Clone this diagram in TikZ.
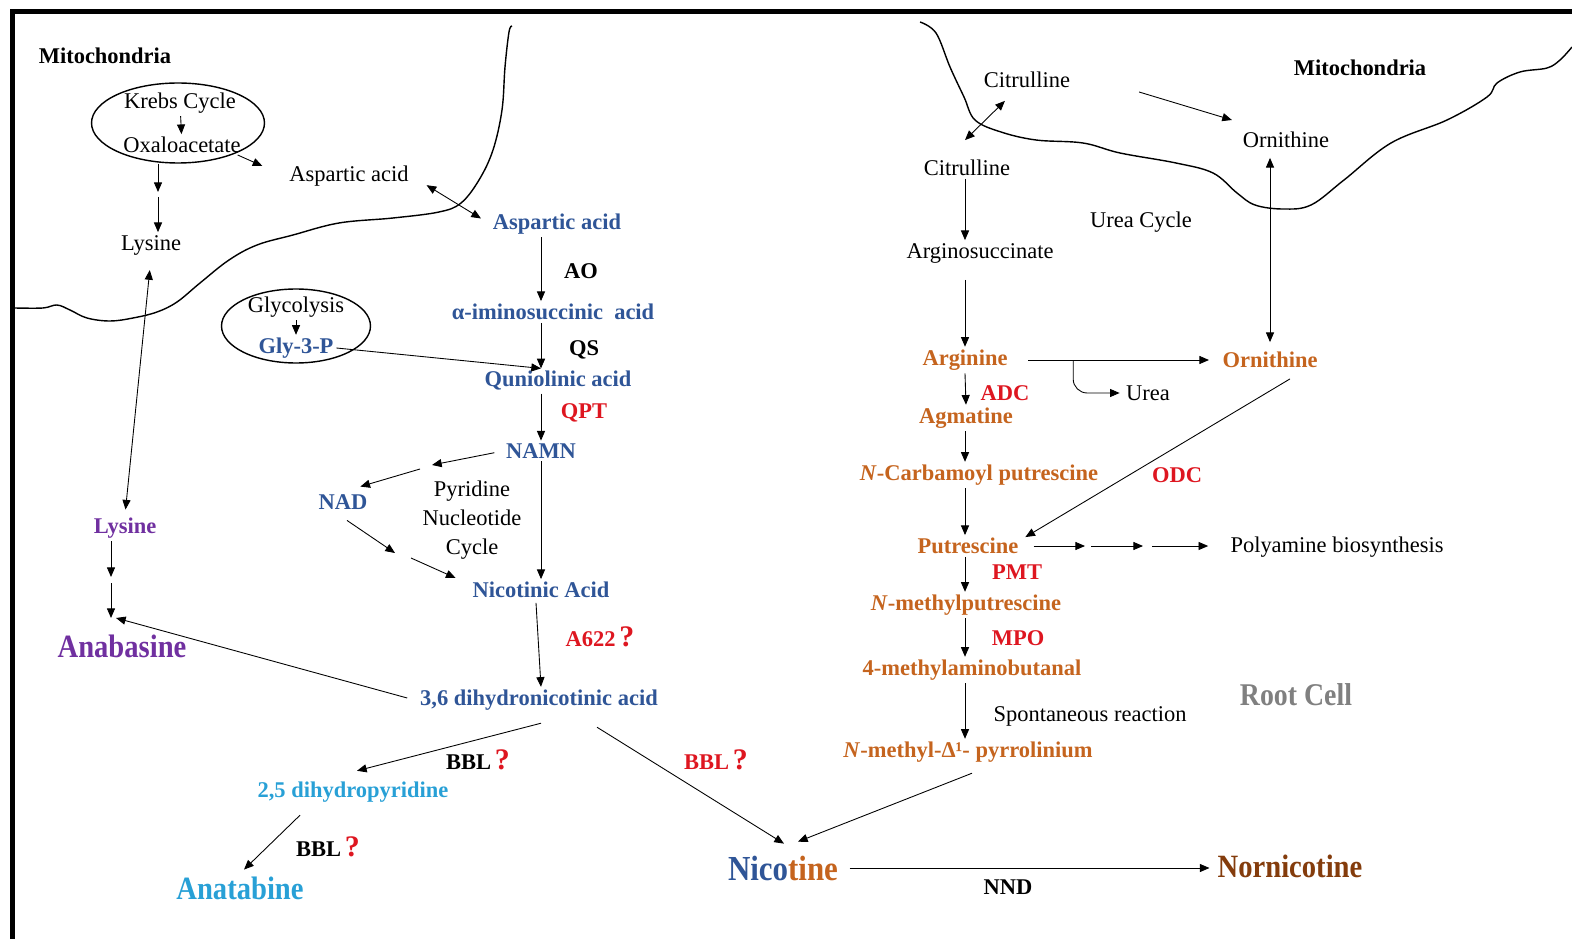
\documentclass[tikz,border=0pt]{standalone}
\usepackage{fontspec}
\setmainfont{Liberation Serif}
\newfontfamily\condfont{Liberation Serif}[FakeStretch=0.88]
\usetikzlibrary{arrows.meta,shapes.geometric,calc}

\definecolor{blueT}{RGB}{47,85,151}
\definecolor{orangeT}{RGB}{197,100,30}
\definecolor{brownT}{RGB}{132,60,12}
\definecolor{redT}{RGB}{222,22,32}
\definecolor{purpleT}{RGB}{112,48,160}
\definecolor{cyanT}{RGB}{40,160,214}
\definecolor{grayT}{RGB}{128,128,128}

\newcommand{\whyq}{\,\textcolor{redT}{\fontsize{17}{18}\selectfont ?}}

\begin{document}
\begin{tikzpicture}[x=0.02cm,y=-0.02cm,
  every node/.style={inner sep=1.5pt},
  tx/.style={font=\fontsize{12.8}{15}\selectfont},
  bt/.style={font=\bfseries\fontsize{12.8}{15}\selectfont},
  bl/.style={bt,text=blueT},
  og/.style={bt,text=orangeT},
  enz/.style={bt,text=redT},
  big/.style={font=\condfont\bfseries\fontsize{18.5}{20}\selectfont},
  arr/.style={-{Triangle[length=5.5pt,width=4.6pt]},line width=0.5pt},
  arrs/.style={{Triangle[length=5.5pt,width=4.6pt]}-{Triangle[length=5.5pt,width=4.6pt]},line width=0.5pt},
  membrane/.style={line width=0.8pt},
  cell/.style={draw,ellipse,line width=0.8pt}]
\useasboundingbox (0,0) rectangle (1572,939);

% Frame
\fill (10,9) rectangle (1572,14);
\fill (10,9) rectangle (15,939);

% Membranes
\draw[membrane] plot[smooth,tension=0.6] coordinates {(15,308) (43,308) (57,305) (70,310) (87,318) (110,321) (133,318) (157,312) (177,302) (200,283) (229,260) (257,245) (293,235) (339,223) (393,218) (439,212) (461,203) (479,180) (493,150) (502,110) (505,67) (509,32) (512,26)};
\draw[membrane] plot[smooth,tension=0.6] coordinates {(920,22) (936,33) (950,67) (964,97) (975,120) (1001,132) (1036,140) (1083,143) (1120,153) (1176,163) (1213,173) (1237,193) (1255,205) (1283,209) (1311,205) (1344,180) (1391,143) (1447,120) (1487,97) (1497,83) (1520,72) (1547,68) (1560,60) (1572,47)};

% Left mitochondria
\node[bt] (mitoL) at (105,56) {Mitochondria};
\node[cell, minimum width=3.46cm, minimum height=1.6cm] (krebsCell) at (178,123) {};
\node[tx] (krebs) at (180,103) {Krebs Cycle};
\node[tx] (oxalo) at (182,145) {Oxaloacetate};
\node[tx] (asp1) at (349,176) {Aspartic acid};
\node[tx] (lysM) at (151,245) {Lysine};
\coordinate (kA) at (158,192);
\coordinate (kB) at (158,197);
\draw[arr] (krebs) -- (oxalo);
\draw[arr] ($(oxalo.east)+(-6,10)$) -- ($(asp1.west)+(-24,-10)$);
\draw[arr] (krebsCell.south -| kA) -- (kA);
\draw[arr] (kB) -- (lysM.north -| kB);

% Anabasine branch
\node[bt,text=purpleT] (lysP) at (125,528) {Lysine};
\node[big,text=purpleT] (anab) at (122,646) {Anabasine};
\coordinate (lA) at (111,577);
\coordinate (lB) at (111,583);
\coordinate (anabIn) at (116,618);
\draw[arrs,shorten <=7pt,shorten >=3pt] (lysM.south) -- (lysP.north);
\draw[arr] (lysP.south -| lA) -- (lA);
\draw[arr] (lB) -- (anabIn -| lB);

% Nicotinic acid pathway
\node[bl] (aspB) at (557,224) {Aspartic acid};
\node[bt] (ao) at (581,271) {AO};
\node[bl] (imino) at (553,312) {α-iminosuccinic\ \ acid};
\node[bt] (qs) at (584,350) {QS};
\node[cell, minimum width=2.98cm, minimum height=1.48cm] (glyCell) at (296,326) {};
\node[tx] (glyco) at (296,307) {Glycolysis};
\node[bl] (gly3p) at (296,348) {Gly-3-P};
\node[bl] (quin) at (558,381) {Quniolinic acid};
\node[enz] (qpt) at (584,413) {QPT};
\node[bl] (namn) at (541,451) {NAMN};
\node[bl] (nad) at (343,502) {NAD};
\node[tx, align=center, font=\fontsize{12.8}{16.3}\selectfont] (pnc) at (472,520) {Pyridine\\Nucleotide\\Cycle};
\node[bl] (nico) at (541,590) {Nicotinic Acid};
\node[enz] (a622) at (600,637) {A622\whyq};
\node[bl] (dhn) at (539,700) {3,6 dihydronicotinic acid};
\coordinate (nA) at (432,465);
\coordinate (nB) at (420,469);
\coordinate (pA) at (395,553);
\coordinate (pB) at (411,558);

\draw[arrs,shorten <=10pt,shorten >=6pt] (asp1.east) -- (aspB.west);
\draw[arr] (glyco) -- (gly3p);
\draw[arr] (aspB.south -| namn) -- (imino.north -| namn);
\draw[arr] (imino.south -| namn) -- (quin.north -| namn);
\draw[arr] (gly3p.east) -- (quin.north -| namn);
\draw[arr] (quin.south -| namn) -- (namn.north);
\draw[arr,shorten <=5pt] (namn.west) -- (nA);
\draw[arr] (nB) -- ($(nad.north east)+(-10,-5)$);
\draw[arr] ($(nad.south)+(4,8)$) -- (pA);
\draw[arr] (pB) -- ($(nico.west)+(-14,-12)$);
\draw[arr] (namn.south) -- (nico.north -| namn);
\draw[arr] ($(nico.south)+(-5,2)$) -- (dhn.north -| namn);
\draw[arr] ($(dhn.west)+(-10,-2)$) -- (anabIn);

% Anatabine branch
\node[bt,text=cyanT] (dhp) at (353,792) {2,5 dihydropyridine};
\node[big,text=cyanT] (anat) at (240,888) {Anatabine};
\node[bt] (bblA) at (478,760) {BBL\whyq};
\node[bt] (bblC) at (328,847) {BBL\whyq};
\draw[arr] ($(dhn.south)+(2,10)$) -- ($(dhp.north)+(4,-8)$);
\draw[arr] ($(dhp.south)+(-53,10)$) -- ($(anat.north)+(4,-4)$);

% Right mitochondria and urea cycle
\node[bt] (mitoR) at (1360,68) {Mitochondria};
\node[tx] (cit1) at (1027,80) {Citrulline};
\node[tx] (orn1) at (1286,140) {Ornithine};
\node[tx] (cit2) at (967,168) {Citrulline};
\node[tx] (ureaCyc) at (1141,222) {Urea Cycle};
\node[tx] (argsucc) at (980,253) {Arginosuccinate};
\node[og] (arg) at (965,360) {Arginine};
\node[og] (ornO) at (1270,360) {Ornithine};
\node[tx] (urea) at (1148,393) {Urea};
\coordinate (ureaFork) at ($(arg.east)!0.3!(ornO.west)$);
\draw[arrs] ($(cit1.south west)+(24,10)$) -- ($(cit2.north)+(-2,-17)$);
\draw[arr] ($(cit1.east)+(66,12)$) -- ($(orn1.west)+(-8,-20)$);
\draw[arr] (cit2.south -| arg) -- (argsucc.north -| arg);
\draw[arr,shorten <=8pt] (argsucc.south -| arg) -- (arg.north);
\draw[arr,shorten <=10pt,shorten >=6pt] (arg.east) -- (ornO.west);
\draw[arr,rounded corners=8pt,shorten >=2pt] (ureaFork) |- (urea.west);
\draw[arrs,shorten <=4pt,shorten >=4pt] (ornO.north) -- (orn1.south -| ornO);

% Putrescine pathway
\node[enz] (adc) at (1005,393) {ADC};
\node[og] (agm) at (966,418) {Agmatine};
\node[og] (ncarb) at (979,475) {\textit{N}-Carbamoyl putrescine};
\node[enz] (odc) at (1177,475) {ODC};
\node[og] (put) at (968,546) {Putrescine};
\node[tx] (poly) at (1337,547) {Polyamine biosynthesis};
\node[enz] (pmt) at (1017,572) {PMT};
\node[og] (nmp) at (966,605) {\textit{N}-methylputrescine};
\node[enz] (mpo) at (1018,638) {MPO};
\node[og] (mab) at (972,670) {4-methylaminobutanal};
\node[tx] (spont) at (1090,716) {Spontaneous reaction};
\node[og] (pyr) at (968,752) {\textit{N}-methyl-Δ¹- pyrrolinium};
\node[big,text=grayT,font=\condfont\bfseries\fontsize{18}{20}\selectfont] (root) at (1296,695) {Root Cell};
\coordinate (pa1) at (1085,546);
\coordinate (pa2) at (1091,546);
\coordinate (pa3) at (1143,546);
\coordinate (pa4) at (1152,546);
\draw[arr] (arg.south) -- (agm.north);
\draw[arr] (agm.south -| arg) -- (ncarb.north -| arg);
\draw[arr] ($(ornO.south)+(20,8)$) -- ($(put.north east)+(4,2)$);
\draw[arr] (ncarb.south -| arg) -- (put.north -| arg);
\draw[arr,shorten <=7pt] (put.east) -- (pa1);
\draw[arr] (pa2) -- (pa3);
\draw[arr,shorten >=11pt] (pa4) -- (poly.west |- pa4);
\draw[arr] (put.south -| arg) -- (nmp.north -| arg);
\draw[arr] (nmp.south -| arg) -- (mab.north -| arg);
\draw[arr] (mab.south -| arg) -- (pyr.north -| arg);

% Nicotine and Nornicotine
\node[big,font=\condfont\bfseries\fontsize{20}{22}\selectfont] (nicot) at (783,868) {\textcolor{blueT}{Nico}\textcolor{orangeT}{tine}};
\node[big,text=brownT] (norn) at (1290,866) {Nornicotine};
\node[enz] (bblB) at (716,760) {BBL\whyq};
\node[bt] (nnd) at (1008,887) {NND};
\draw[arr] ($(dhn.south)+(58,14)$) -- ($(nicot.north)+(1,-9)$);
\draw[arr] ($(pyr.south)+(4,8)$) -- ($(nicot.north)+(15,-11)$);
\draw[arr,shorten <=5pt,shorten >=3pt] (nicot.east) -- (norn.west |- nicot.east);
\end{tikzpicture}
\end{document}
